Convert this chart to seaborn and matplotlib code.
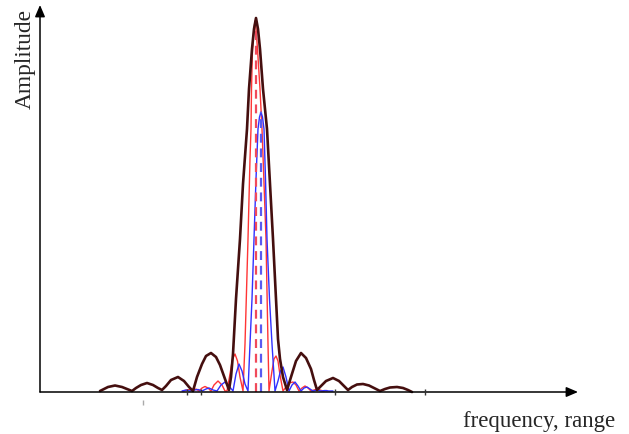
import matplotlib
matplotlib.use('Agg')
import matplotlib.pyplot as plt
import pandas as pd
import seaborn as sns

# values: x in image columns, amplitude = rows above the x axis
brown_x = [100, 104, 108, 115, 122, 127, 132, 136, 141, 147, 153, 158, 162,
           166, 171, 178, 184, 189, 193, 197, 202, 206, 211, 216, 220, 225,
           229, 231, 233, 236, 240, 243, 247, 249, 252, 254, 256, 258, 260,
           263, 267, 270, 273, 276, 278, 280, 283, 287, 291, 296, 301, 306,
           311, 314, 317, 321, 326, 333, 339, 344, 348, 352, 357, 363, 369,
           375, 380, 385, 390, 397, 403, 408, 412]
brown_amp = [1, 3, 5, 6.5, 5, 3, 1, 4, 7, 9, 7, 4, 2,
             6, 12, 15, 11, 5, 1, 15, 28, 36, 39, 35, 27, 13,
             2, 15, 38, 93, 153, 208, 263, 303, 343, 363, 374, 363, 343,
             303, 263, 208, 153, 93, 53, 33, 15, 2, 15, 31, 39, 34,
             23, 12, 2, 6, 11, 14, 11, 6, 2, 5, 7.5, 8, 6.5,
             3.5, 1, 3, 4.5, 5, 4, 2, 0]

red_x = [183, 187, 190, 193, 196, 199, 202, 205, 208, 211, 214, 218, 222,
         225, 227, 230, 232.5, 235, 237.5, 240, 243, 245, 248, 250, 251,
         251.5, 252.5, 254, 255, 256, 257.5, 260, 262, 263.5, 266, 268,
         269, 272, 274, 276, 278, 280, 283, 286, 289, 293, 296, 299, 302,
         305, 308, 311, 314, 317, 320, 323, 327]
red_amp = [1, 2, 2.5, 1.5, 3, 1, 4, 5.5, 4, 1, 7, 11, 7,
           1, 1, 18, 33, 38, 31, 15, 1, 48, 153, 233, 263,
           303, 343, 363, 371, 363, 343, 303, 263, 223, 153, 48,
           1, 21, 33, 36, 31, 17, 1, 5, 9, 10, 7, 1, 4,
           6, 4, 1, 2, 3, 2, 1, 1.5]

blue_x = [182, 186, 190, 194, 198, 202, 206, 209, 213, 217, 221, 225, 229,
          233, 236, 239, 242, 245, 248, 250, 252, 254, 256, 258, 259.5, 261,
          262.5, 264, 265.5, 267, 269.5, 272, 275, 278, 280.5, 283, 286,
          289, 292, 295, 298, 301, 304, 307, 310, 313, 317, 321, 325, 329,
          333]
blue_amp = [1, 2, 1, 2, 2.5, 1, 3, 4, 2, 1, 7, 10, 6,
            1, 18, 28, 21, 8, 1, 48, 93, 153, 213, 263, 275, 280,
            275, 263, 213, 153, 93, 48, 1, 11, 21, 25, 15,
            1, 7, 10, 6, 1, 4, 5, 3, 1, 2, 1, 1.5, 1,
            1]

# dashed component lines: position and height
red_line_x = [255.5]
red_line_amp = [363]
blue_line_x = [260.5]
blue_line_amp = [280]

# small marks on and under the x axis
tick_x = [187, 201, 335, 425]
faint_tick_x = [143]

sns.set_style('white')

fig = plt.figure(figsize=(6.29, 4.35), dpi=100)
ax = fig.add_axes([0, 0, 1, 1])
ax.set_xlim(0, 629)
ax.set_ylim(-42, 393)
ax.set_axis_off()

red = pd.DataFrame({'x': red_x, 'amp': red_amp})
blue = pd.DataFrame({'x': blue_x, 'amp': blue_amp})
brown = pd.DataFrame({'x': brown_x, 'amp': brown_amp})

sns.lineplot(data=red, x='x', y='amp', ax=ax, color='#ff3535',
             linewidth=1.0, zorder=3)
sns.lineplot(data=blue, x='x', y='amp', ax=ax, color='#3030ff',
             linewidth=1.0, zorder=4)
ax.vlines(red_line_x, 0, red_line_amp, colors='#f04a5a', linewidth=1.6,
          linestyles=(0, (4, 2.6)), zorder=5)
ax.vlines(blue_line_x, 0, blue_line_amp, colors='#5a5af0', linewidth=1.6,
          linestyles=(0, (4, 2.6)), zorder=5)
sns.lineplot(data=brown, x='x', y='amp', ax=ax, color='#450f0f',
             linewidth=1.9, zorder=6)

# axes drawn as arrows
arrow = dict(arrowstyle='-|>,head_length=0.7,head_width=0.3',
             color='black', lw=1.1, shrinkA=0, shrinkB=0)
ax.annotate('', xy=(578, 0), xytext=(40, 0), arrowprops=arrow, zorder=7)
ax.annotate('', xy=(40, 387), xytext=(40, 0), arrowprops=arrow, zorder=7)
ax.vlines(tick_x, -3, 3, colors='#333333', linewidth=1.0, zorder=7)
ax.vlines(faint_tick_x, -8, -13, colors='#aaaaaa', linewidth=1.0, zorder=7)

if ax.get_legend() is not None:
    ax.get_legend().remove()

ax.text(25, 334, 'Amplitude', rotation=90, ha='center', va='center',
        fontsize=16.8, family='Liberation Serif')
ax.text(463, -34, 'frequency, range', ha='left', va='baseline',
        fontsize=16.5, family='Liberation Serif')

fig.savefig('out.png', dpi=100)
